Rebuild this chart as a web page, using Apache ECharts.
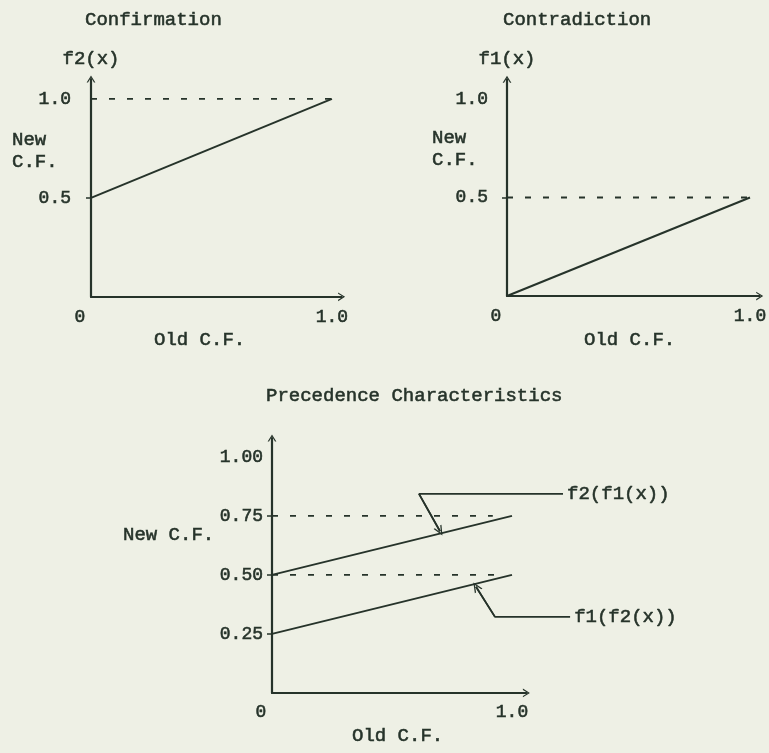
<!DOCTYPE html>
<html lang="en">
<head>
    <meta charset="UTF-8">
    <title>Confirmation / Contradiction / Precedence Characteristics</title>
    <script src="https://cdn.jsdelivr.net/npm/echarts@6/dist/echarts.min.js"></script>
    <style>
        html, body { margin: 0; padding: 0; background: #eef0e5; }
        #chart { width: 769px; height: 753px; }
    </style>
</head>
<body>
<div id="chart"></div>
<script>
    // x axis of all three plots
    const xTicks = [0, 1];
    const xTickLabels = ['0', '1.0'];

    // Confirmation
    const confYTicks = [0.5, 1.0];
    const confYLabels = ['0.5', '1.0'];
    const confLine = [[0, 0.5], [1, 1]];
    const confRef = [[0, 1], [1, 1]];

    // Contradiction
    const contYTicks = [0.5, 1.0];
    const contYLabels = ['0.5', '1.0'];
    const contLine = [[0, 0], [1, 0.5]];
    const contRef = [[0, 0.5], [1, 0.5]];

    // Precedence Characteristics
    const precYTicks = [0.25, 0.5, 0.75, 1.0];
    const precYLabels = ['0.25', '0.50', '0.75', '1.00'];
    const f2f1Line = [[0, 0.5], [1, 0.75]];
    const f1f2Line = [[0, 0.25], [1, 0.5]];
    const precRefHigh = [[0, 0.75], [0.92, 0.75]];
    const precRefLow = [[0, 0.5], [0.93, 0.5]];
    // leader lines: arrow tip, corner, right end
    const f2f1Leader = [[0.70, 0.685], [0.6125, 0.843], [1.2125, 0.843]];
    const f1f2Leader = [[0.85, 0.45], [0.929, 0.322], [1.242, 0.322]];

    const ink = '#26332a';
    const font = '"Liberation Mono", "Courier New", monospace';
    const caret = 'path://M5,0 L10,8 L8.4,8 L5,2.4 L1.6,8 L0,8 Z';
    const stroke = 0.55;

    function labelOf(ticks, labels) {
        return function (v) {
            const i = ticks.indexOf(v);
            return i < 0 ? '' : labels[i];
        };
    }

    function xAxisFor(gi, max, margin) {
        return {
            type: 'value', gridIndex: gi, min: 0, max: max,
            splitLine: {show: false},
            axisLine: {show: true, symbol: ['none', caret], symbolSize: [10, 7],
                lineStyle: {color: ink, width: 2.2}},
            axisTick: {show: false},
            axisLabel: {
                customValues: xTicks, margin: margin, color: ink,
                fontFamily: font, fontSize: 18, textBorderColor: ink, textBorderWidth: stroke,
                formatter: function (v) {
                    const t = labelOf(xTicks, xTickLabels)(v);
                    return v === 0 ? '{z|' + t + '}' : t;
                },
                rich: {z: {padding: [0, 22, 0, 0]}}
            }
        };
    }

    function yAxisFor(gi, max, ticks, tickAt, labels, margin, name) {
        return {
            type: 'value', gridIndex: gi, min: 0, max: max,
            name: name, nameLocation: 'end', nameGap: 11,
            nameTextStyle: {color: ink, fontFamily: font, fontSize: 19,
                textBorderColor: ink, textBorderWidth: stroke},
            splitLine: {show: false},
            axisLine: {show: true, symbol: ['none', caret], symbolSize: [10, 7],
                lineStyle: {color: ink, width: 2.2}},
            axisTick: {show: true, customValues: tickAt, length: 5,
                lineStyle: {color: ink, width: 1.5}},
            axisLabel: {
                customValues: ticks, margin: margin, color: ink,
                fontFamily: font, fontSize: 18, textBorderColor: ink, textBorderWidth: stroke,
                formatter: labelOf(ticks, labels)
            }
        };
    }

    // hidden axes of the overlay grid that carries the leader lines
    function hiddenAxis(gi, max) {
        return {
            type: 'value', gridIndex: gi, min: 0, max: max, show: false,
            splitLine: {show: false}
        };
    }

    function plain(gi, data, dashed, width) {
        return {
            type: 'line', xAxisIndex: gi, yAxisIndex: gi, data: data,
            symbol: 'none', silent: true,
            lineStyle: {color: ink, width: width, type: dashed ? [6, 12] : 'solid'}
        };
    }

    function leader(data, text) {
        const pts = data.map(function (p, i) {
            return i === data.length - 1
                ? {value: p, label: {show: true, position: 'right', distance: 4, formatter: text}}
                : {value: p};
        });
        return {
            type: 'line', xAxisIndex: 3, yAxisIndex: 3, data: pts,
            symbol: 'circle', symbolSize: 0.1, showSymbol: true, silent: true,
            lineStyle: {color: ink, width: 1.7},
            itemStyle: {color: ink},
            label: {show: false, color: ink, fontFamily: font, fontSize: 19,
                textBorderColor: ink, textBorderWidth: stroke},
            markLine: {
                silent: true, animation: false,
                symbol: ['none', caret], symbolSize: [9, 10],
                label: {show: false},
                lineStyle: {color: ink, width: 1.7, type: 'solid'},
                data: [[{coord: data[1]}, {coord: data[0]}]]
            }
        };
    }

    function text(str, left, top, size) {
        return {
            text: str, left: left, top: top, padding: 0,
            textStyle: {color: ink, fontFamily: font, fontSize: size, fontWeight: 'normal',
                lineHeight: 22, textBorderColor: ink, textBorderWidth: stroke}
        };
    }

    const chart = echarts.init(document.getElementById('chart'), null, {renderer: 'canvas'});
    const option = {
        backgroundColor: '#eef0e5',
        animation: false,
        title: [
            text('Confirmation', 85, 9, 19),
            text('Contradiction', 503, 9, 19),
            text('Precedence Characteristics', 266, 385, 19),
            text('New\nC.F.', 12, 129, 19),
            text('New\nC.F.', 432, 127, 19),
            text('New C.F.', 123, 524, 19),
            text('Old C.F.', 154, 329, 19),
            text('Old C.F.', 584, 329, 19),
            text('Old C.F.', 352, 725, 19)
        ],
        grid: [
            {left: 91, top: 79, width: 250.6, height: 217.8, outerBoundsMode: 'none'},
            {left: 507, top: 79.3, width: 252.7, height: 216.7, outerBoundsMode: 'none'},
            {left: 272, top: 438, width: 254.4, height: 254.9, outerBoundsMode: 'none'},
            // same scale as the third grid, wider so the leader lines fit
            {left: 272, top: 438, width: 312, height: 254.9, outerBoundsMode: 'none'}
        ],
        xAxis: [
            xAxisFor(0, 1.04, 11),
            xAxisFor(1, 1.04, 11),
            xAxisFor(2, 1.06, 10),
            hiddenAxis(3, 1.3)
        ],
        yAxis: [
            yAxisFor(0, 1.1, confYTicks, [0.5], confYLabels, 20, 'f2(x)'),
            yAxisFor(1, 1.1, contYTicks, [0.5], contYLabels, 19, 'f1(x)'),
            yAxisFor(2, 1.08, precYTicks, [0.25, 0.5, 0.75], precYLabels, 9, ''),
            hiddenAxis(3, 1.08)
        ],
        series: [
            plain(0, confRef, true, 1.8),
            plain(0, confLine, false, 2),
            plain(1, contRef, true, 1.8),
            plain(1, contLine, false, 2),
            plain(2, precRefHigh, true, 1.8),
            plain(2, precRefLow, true, 1.8),
            plain(2, f2f1Line, false, 1.9),
            plain(2, f1f2Line, false, 1.9),
            leader(f2f1Leader, 'f2(f1(x))'),
            leader(f1f2Leader, 'f1(f2(x))')
        ]
    };
    chart.setOption(option);
    window.addEventListener('resize', chart.resize);
</script>
</body>
</html>
